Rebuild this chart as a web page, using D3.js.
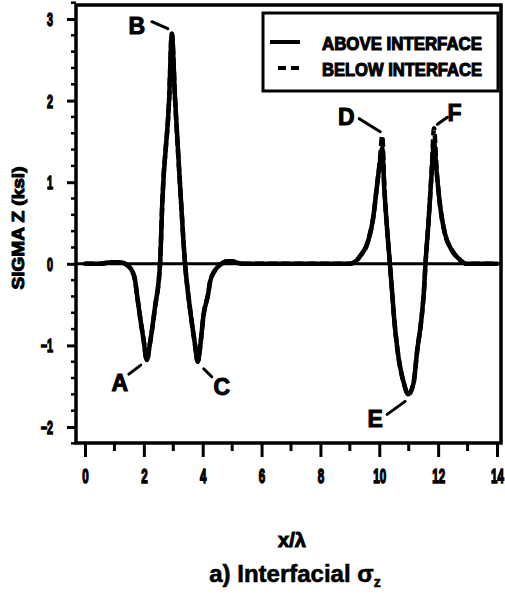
<!DOCTYPE html>
<html>
<head>
<meta charset="utf-8">
<script src="https://cdn.jsdelivr.net/npm/d3@7/dist/d3.min.js"></script>
<style>
  html, body { margin: 0; padding: 0; background: #fff; }
  svg { display: block; }
  text { font-family: "Liberation Sans", Arial, "DejaVu Sans", sans-serif; font-weight: bold; fill: #000; stroke: #000; stroke-width: 0.8px; }
</style>
</head>
<body>
<script>
// ---- data ----
const xValues = [0, 0.5, 0.9, 1.1, 1.25, 1.36, 1.48, 1.59, 1.70, 1.76, 1.87, 1.99, 2.10, 2.21, 2.38, 2.55, 2.63, 2.86, 2.95, 3.06, 3.26, 3.40, 3.56, 3.73, 3.83, 3.94, 4.02, 4.19, 4.25, 4.40, 4.64, 4.80, 5.00, 5.20, 5.40, 8.0, 9.0, 9.2, 9.34, 9.63, 9.80, 9.91, 10.02, 10.10, 10.17, 10.25, 10.36, 10.43, 10.50, 10.62, 10.84, 10.98, 11.16, 11.29, 11.44, 11.52, 11.57, 11.67, 11.78, 11.86, 11.95, 12.07, 12.23, 12.46, 12.74, 12.95, 14];
const aboveInterface = [0, 0, 0.02, 0.02, 0.015, 0, -0.03, -0.08, -0.20, -0.36, -0.65, -0.93, -1.18, -0.97, -0.53, 0, 0.78, 2.02, 2.82, 2.02, 0.78, 0, -0.53, -0.97, -1.20, -0.93, -0.65, -0.36, -0.22, -0.09, 0, 0.03, 0.03, 0.01, 0, 0, 0, 0.03, 0.09, 0.29, 0.58, 0.92, 1.24, 1.42, 0.92, 0.50, 0, -0.32, -0.65, -1.06, -1.47, -1.60, -1.47, -1.06, -0.65, -0.32, 0, 0.50, 1.12, 1.49, 1.12, 0.70, 0.37, 0.17, 0.05, 0, 0];
const belowInterface = [0, 0, 0.02, 0.02, 0.015, 0, -0.03, -0.08, -0.20, -0.36, -0.65, -0.93, -1.18, -0.97, -0.53, 0, 0.78, 2.02, 2.82, 2.02, 0.78, 0, -0.53, -0.97, -1.20, -0.93, -0.65, -0.36, -0.22, -0.09, 0, 0.03, 0.03, 0.01, 0, 0, 0, 0.03, 0.09, 0.29, 0.58, 0.92, 1.26, 1.57, 0.95, 0.50, 0, -0.32, -0.65, -1.06, -1.47, -1.60, -1.47, -1.06, -0.65, -0.32, 0, 0.50, 1.14, 1.66, 1.14, 0.70, 0.37, 0.17, 0.05, 0, 0];
const seriesNames = ["ABOVE INTERFACE", "BELOW INTERFACE"];
const xTicks = [0, 2, 4, 6, 8, 10, 12, 14];
const xMinorTicks = [1, 3, 5, 7, 9, 11, 13];
const yTicks = [-2, -1, 0, 1, 2, 3];
const yMinorTicks = [-2.2, -1.8, -1.6, -1.4, -1.2, -0.8, -0.6, -0.4, -0.2, 0.2, 0.4, 0.6, 0.8, 1.2, 1.4, 1.6, 1.8, 2.2, 2.4, 2.6, 2.8, 3.2];
const pointLabels = [
  {name: "A", x: 2.10, y: -1.18},
  {name: "B", x: 2.95, y: 2.82},
  {name: "C", x: 3.83, y: -1.20},
  {name: "D", x: 10.10, y: 1.57},
  {name: "E", x: 10.98, y: -1.60},
  {name: "F", x: 11.84, y: 1.66}
];
const yTitle = "SIGMA Z (ksi)";
const xTitle = "x/λ";
const caption = "a) Interfacial σ";
const captionSub = "z";

// ---- layout ----
const W = 505, H = 598;
const frame = {left: 76, right: 501, top: 5, bottom: 443};
const x = d3.scaleLinear().domain([0, 14]).range([85, 497]);
const y = d3.scaleLinear().domain([-2, 3]).range([427, 19]);

const svg = d3.select("body").append("svg").attr("width", W).attr("height", H);
svg.append("rect").attr("width", W).attr("height", H).attr("fill", "#fff");

// zero reference line
svg.append("line")
  .attr("x1", frame.left).attr("x2", frame.right)
  .attr("y1", y(0)).attr("y2", y(0))
  .attr("stroke", "#000").attr("stroke-width", 3);

// curves
const pts = (arr) => xValues.map((v, i) => [v, arr[i]]);
const line = d3.line().x(d => x(d[0])).y(d => y(d[1])).curve(d3.curveMonotoneX);
svg.append("path").datum(pts(belowInterface))
  .attr("d", line).attr("fill", "none").attr("stroke", "#000")
  .attr("stroke-width", 4.5).attr("stroke-dasharray", "9,4").attr("stroke-linejoin", "round");
svg.append("path").datum(pts(aboveInterface))
  .attr("d", line).attr("fill", "none").attr("stroke", "#000")
  .attr("stroke-width", 4.5).attr("stroke-linejoin", "round").attr("stroke-linecap", "round");

// frame
svg.append("rect")
  .attr("x", frame.left).attr("y", frame.top)
  .attr("width", frame.right - frame.left).attr("height", frame.bottom - frame.top)
  .attr("fill", "none").attr("stroke", "#000").attr("stroke-width", 3.5);

// y axis
const yAxis = svg.append("g").attr("transform", `translate(${frame.left},0)`)
  .call(d3.axisLeft(y).tickValues(yTicks).tickSize(9).tickSizeOuter(0)
    .tickFormat(d => d < 0 ? "\u2212" + Math.abs(d) : d));
yAxis.select(".domain").remove();
yAxis.selectAll(".tick line").attr("stroke", "#000").attr("stroke-width", 3);
yAxis.selectAll(".tick text")
  .attr("x", -23 / 0.6).attr("dy", "0.36em")
  .attr("transform", "scale(0.6,1)")
  .style("font-size", "18px").style("font-family", "Liberation Sans, Arial, sans-serif")
  .style("font-weight", "bold").style("stroke", "#000").style("stroke-width", "1.4px");
svg.append("g").selectAll("line").data(yMinorTicks).join("line")
  .attr("x1", frame.left - 5).attr("x2", frame.left)
  .attr("y1", d => y(d)).attr("y2", d => y(d))
  .attr("stroke", "#000").attr("stroke-width", 2.5);

// x axis
const xAxis = svg.append("g").attr("transform", `translate(0,${frame.bottom})`)
  .call(d3.axisBottom(x).tickValues(xTicks).tickSize(14).tickSizeOuter(0).tickFormat(d3.format("d")));
xAxis.select(".domain").remove();
xAxis.selectAll(".tick line").attr("stroke", "#000").attr("stroke-width", 3);
xAxis.selectAll(".tick text")
  .attr("y", 40).attr("dy", 0)
  .attr("transform", "scale(0.55,1)")
  .style("font-size", "21px").style("font-family", "Liberation Sans, Arial, sans-serif")
  .style("font-weight", "bold").style("stroke", "#000").style("stroke-width", "1.6px");
svg.append("g").selectAll("line").data(xMinorTicks).join("line")
  .attr("x1", d => x(d)).attr("x2", d => x(d))
  .attr("y1", frame.bottom).attr("y2", frame.bottom + 8)
  .attr("stroke", "#000").attr("stroke-width", 3);

// point labels with leader lines
const labelOffsets = {
  A: {tx: -27, ty: 31, l: [[-18, 14], [-6, 5]]},
  B: {tx: -35, ty: 0, l: [[-20, -12], [-4, -5]]},
  C: {tx: 24, ty: 33, l: [[6, 7], [14, 15]]},
  D: {tx: -36, ty: -11, l: [[-23, -17], [-2, -4]]},
  E: {tx: -33, ty: 33, l: [[-21, 20], [-3, 7]]},
  F: {tx: 21, ty: -7, l: [[4, -4], [14, -11]]}
};
pointLabels.forEach(p => {
  const o = labelOffsets[p.name];
  const px = x(p.x), py = y(p.y);
  svg.append("line")
    .attr("x1", px + o.l[0][0]).attr("y1", py + o.l[0][1])
    .attr("x2", px + o.l[1][0]).attr("y2", py + o.l[1][1])
    .attr("stroke", "#000").attr("stroke-width", 3).attr("stroke-linecap", "round");
  svg.append("text").attr("x", px + o.tx).attr("y", py + o.ty)
    .attr("text-anchor", "middle").style("font-size", "23px").style("stroke-width", "1px").text(p.name);
});

// legend
const lg = svg.append("g");
lg.append("rect").attr("x", 263).attr("y", 13).attr("width", 235).attr("height", 78)
  .attr("fill", "#fff").attr("stroke", "#000").attr("stroke-width", 3);
lg.append("line").attr("x1", 270).attr("x2", 300).attr("y1", 42).attr("y2", 42)
  .attr("stroke", "#000").attr("stroke-width", 4);
lg.append("line").attr("x1", 278).attr("x2", 299).attr("y1", 68).attr("y2", 68)
  .attr("stroke", "#000").attr("stroke-width", 4).attr("stroke-dasharray", "8,5");
seriesNames.forEach((n, i) => {
  lg.append("text").attr("x", 322).attr("y", 50 + i * 26)
    .attr("textLength", 160).attr("lengthAdjust", "spacingAndGlyphs")
    .style("font-size", "18px").style("stroke-width", "1.1px").text(n);
});

// y title
svg.append("text").attr("transform", "translate(24,228) rotate(-90)")
  .attr("text-anchor", "middle").attr("textLength", 123).attr("lengthAdjust", "spacingAndGlyphs")
  .style("font-size", "16px").style("stroke-width", "1px").text(yTitle);

// x title
svg.append("text").attr("x", 292).attr("y", 547).attr("text-anchor", "middle")
  .style("font-size", "20px").style("stroke-width", "1px").text(xTitle);

// caption
const cap = svg.append("text").attr("x", 295).attr("y", 582).attr("text-anchor", "middle")
  .style("font-size", "24px").style("stroke-width", "0.6px");
cap.append("tspan").text(caption);
cap.append("tspan").attr("dy", 5).style("font-size", "14px").text(captionSub);
</script>
</body>
</html>
